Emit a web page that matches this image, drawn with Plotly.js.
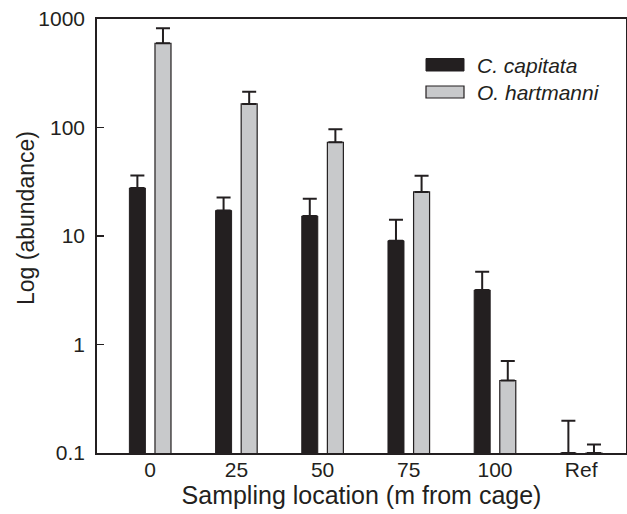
<!DOCTYPE html>
<html>
<head>
<meta charset="utf-8">
<script src="https://cdn.plot.ly/plotly-3.0.1.min.js"></script>
<style>html,body{margin:0;padding:0;background:#fff;}#chart{width:627px;height:514px;}</style>
</head>
<body>
<div id="chart"></div>
<script>
// Data
var categories = ['0', '25', '50', '75', '100', 'Ref'];
var seriesNames = ['C. capitata', 'O. hartmanni'];
var capitata = [27.7, 17.2, 15.3, 9.05, 3.18, 0.1];
var capitataErr = [8.5, 5.4, 6.8, 5.05, 1.51, 0.098];
var hartmanni = [598, 165, 73.1, 25.5, 0.466, 0.1];
var hartmanniErr = [224, 49, 23.1, 10.5, 0.237, 0.02];
var yTickVals = [0.1, 1, 10, 100, 1000];
var yTickText = ['0.1', '1', '10', '100', '1000'];

var ink = '#231f20';
var grey = '#c8c9cb';
var zeros = categories.map(function () { return 0; });

var traces = [
  {
    type: 'bar', name: seriesNames[0], x: categories, y: capitata,
    marker: {color: ink, line: {color: ink, width: 1}},
    error_y: {type: 'data', symmetric: false, array: capitataErr, arrayminus: zeros,
              color: ink, thickness: 2, width: 7},
    showlegend: false
  },
  {
    type: 'bar', name: seriesNames[1], x: categories, y: hartmanni,
    marker: {color: grey, line: {color: ink, width: 1.2}},
    error_y: {type: 'data', symmetric: false, array: hartmanniErr, arrayminus: zeros,
              color: ink, thickness: 2, width: 7},
    showlegend: false
  }
];

// plot area in px: left 97, right 626, top 19, bottom 453
function px2x(p) { return (p - 97) / 529; }
function px2y(p) { return (453 - p) / 434; }

var font = 'Liberation Sans, Arial, Helvetica, sans-serif';

var layout = {
  width: 627, height: 514,
  margin: {l: 97, r: 1, t: 19, b: 61, pad: 0},
  paper_bgcolor: '#ffffff', plot_bgcolor: '#ffffff',
  barmode: 'group', bargap: 0.406, bargroupgap: 0.375,
  font: {family: font, color: ink, size: 20},
  xaxis: {
    type: 'category', range: [-0.617, 5.52],
    showline: true, linecolor: ink, linewidth: 1.8, mirror: true,
    ticks: '', showgrid: false, zeroline: false,
    tickfont: {family: font, size: 21, color: ink},
    ticklabelstandoff: -3,
    title: {text: 'Sampling location (m from cage)', font: {family: font, size: 25, color: ink}, standoff: 4}
  },
  yaxis: {
    type: 'log', range: [-1, 3],
    tickvals: yTickVals, ticktext: yTickText,
    showline: true, linecolor: ink, linewidth: 1.8, mirror: true,
    ticks: 'inside', ticklen: 7, tickwidth: 1.8, tickcolor: ink,
    showgrid: false, zeroline: false,
    tickfont: {family: font, size: 21, color: ink},
    ticklabelstandoff: 6
  },
  annotations: [
    {xref: 'paper', yref: 'paper', x: px2x(26), y: px2y(218), xanchor: 'center', yanchor: 'middle',
     text: 'Log (abundance)', textangle: -90, showarrow: false,
     font: {family: font, size: 23, color: ink}},
    {xref: 'paper', yref: 'paper', x: px2x(475), y: px2y(65), xanchor: 'left', yanchor: 'middle',
     text: '<i>' + seriesNames[0] + '</i>', showarrow: false,
     font: {family: font, size: 21, color: ink}},
    {xref: 'paper', yref: 'paper', x: px2x(475), y: px2y(92), xanchor: 'left', yanchor: 'middle',
     text: '<i>' + seriesNames[1] + '</i>', showarrow: false,
     font: {family: font, size: 21, color: ink}}
  ],
  shapes: [
    {type: 'rect', xref: 'paper', yref: 'paper', x0: px2x(426), x1: px2x(464), y0: px2y(71), y1: px2y(58.5),
     fillcolor: ink, line: {color: ink, width: 1}},
    {type: 'rect', xref: 'paper', yref: 'paper', x0: px2x(426), x1: px2x(464), y0: px2y(98), y1: px2y(86),
     fillcolor: grey, line: {color: ink, width: 1.2}}
  ]
};

Plotly.newPlot('chart', traces, layout, {staticPlot: true, displayModeBar: false});
</script>
</body>
</html>
